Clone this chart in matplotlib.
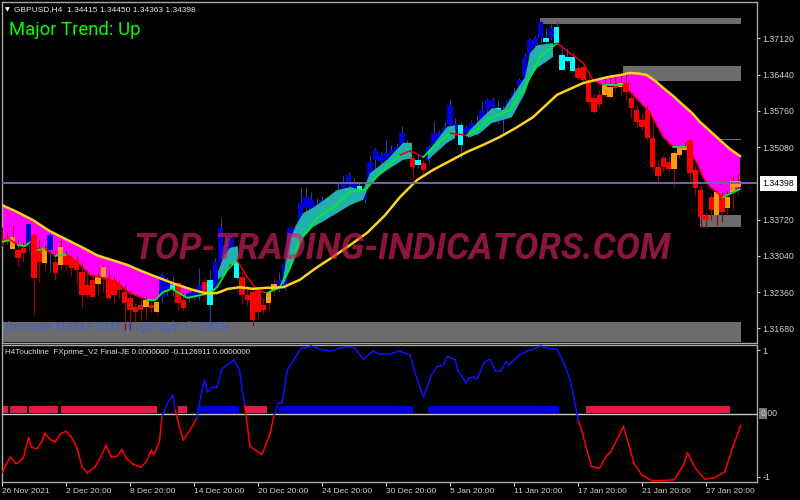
import numpy as np
import matplotlib
matplotlib.use("Agg")
import matplotlib.pyplot as plt
from matplotlib.patches import Rectangle

# candles, one every 2 bars: r/b = down/up, o/c = small orange/cyan ones
kinds = ("rrorrbrrob" "rorrrrrroo" "rrrrrrroro" "bbcrrbbbrc" "bbbbcrrrrr"
         "oobbbbbbbb" "bcbbbbbcbb" "bbbbbbcrcr" "bbbbbbcbbb" "bbbccbbbbb"
         "bbcbccccrr" "rrroororrr" "rrrrrrooor" "rrrrorooo")
body_top = [1.3335, 1.3337, 1.3339, 1.3315, 1.3319, 1.3363, 1.3343, 1.3319, 1.3319, 1.3343,
            1.3292, 1.3321, 1.3306, 1.3300, 1.3296, 1.3273, 1.3249, 1.3258, 1.3264, 1.3283,
            1.3262, 1.3258, 1.3249, 1.3236, 1.3225, 1.3208, 1.3212, 1.3221, 1.3212, 1.3217,
            1.3268, 1.3255, 1.3249, 1.3253, 1.3221, 1.3234, 1.3236, 1.3249, 1.3255, 1.3258,
            1.3292, 1.3356, 1.3325, 1.3337, 1.3292, 1.3264, 1.3231, 1.3236, 1.3240, 1.3212,
            1.3236, 1.3252, 1.3258, 1.3287, 1.3356, 1.3356, 1.3403, 1.3414, 1.3409, 1.3399,
            1.3409, 1.3399, 1.3414, 1.3427, 1.3440, 1.3455, 1.3442, 1.3435, 1.3422, 1.3480,
            1.3502, 1.3493, 1.3497, 1.3502, 1.3508, 1.3534, 1.3516, 1.3487, 1.3484, 1.3478,
            1.3508, 1.3534, 1.3534, 1.3546, 1.3587, 1.3551, 1.3549, 1.3544, 1.3553, 1.3549,
            1.3577, 1.3596, 1.3596, 1.3581, 1.3577, 1.3596, 1.3609, 1.3634, 1.3677, 1.3709,
            1.3713, 1.3743, 1.3713, 1.3731, 1.3733, 1.3681, 1.3677, 1.3677, 1.3656, 1.3658,
            1.3634, 1.3600, 1.3606, 1.3624, 1.3621, 1.3624, 1.3628, 1.3628, 1.3600, 1.3577,
            1.3559, 1.3577, 1.3525, 1.3470, 1.3487, 1.3480, 1.3497, 1.3506, 1.3510, 1.3521,
            1.3465, 1.3427, 1.3379, 1.3414, 1.3424, 1.3418, 1.3414, 1.3444, 1.3444]
body_bot = [1.3328, 1.3330, 1.3317, 1.3300, 1.3309, 1.3325, 1.3262, 1.3292, 1.3290, 1.3315,
            1.3271, 1.3287, 1.3287, 1.3281, 1.3277, 1.3231, 1.3231, 1.3227, 1.3252, 1.3264,
            1.3225, 1.3231, 1.3240, 1.3215, 1.3202, 1.3198, 1.3202, 1.3208, 1.3206, 1.3198,
            1.3227, 1.3240, 1.3240, 1.3215, 1.3206, 1.3225, 1.3225, 1.3231, 1.3231, 1.3212,
            1.3245, 1.3290, 1.3306, 1.3315, 1.3262, 1.3231, 1.3221, 1.3183, 1.3198, 1.3202,
            1.3215, 1.3240, 1.3243, 1.3245, 1.3292, 1.3343, 1.3362, 1.3394, 1.3390, 1.3386,
            1.3386, 1.3390, 1.3403, 1.3409, 1.3427, 1.3437, 1.3431, 1.3424, 1.3409, 1.3442,
            1.3484, 1.3480, 1.3484, 1.3493, 1.3499, 1.3502, 1.3499, 1.3470, 1.3474, 1.3465,
            1.3484, 1.3508, 1.3521, 1.3527, 1.3549, 1.3540, 1.3512, 1.3534, 1.3536, 1.3540,
            1.3555, 1.3577, 1.3583, 1.3568, 1.3562, 1.3574, 1.3587, 1.3606, 1.3639, 1.3677,
            1.3699, 1.3713, 1.3705, 1.3713, 1.3703, 1.3652, 1.3669, 1.3650, 1.3637, 1.3634,
            1.3592, 1.3574, 1.3589, 1.3606, 1.3602, 1.3619, 1.3621, 1.3611, 1.3581, 1.3555,
            1.3546, 1.3525, 1.3470, 1.3453, 1.3470, 1.3467, 1.3467, 1.3493, 1.3502, 1.3459,
            1.3431, 1.3377, 1.3371, 1.3390, 1.3380, 1.3386, 1.3394, 1.3424, 1.3433]
wick_hi = [1.3358, 1.3348, 1.3362, 1.3334, 1.3330, 1.3363, 1.3347, 1.3334, 1.3325, 1.3352,
           1.3315, 1.3334, 1.3315, 1.3308, 1.3304, 1.3292, 1.3277, 1.3271, 1.3273, 1.3287,
           1.3277, 1.3268, 1.3258, 1.3249, 1.3240, 1.3215, 1.3225, 1.3231, 1.3221, 1.3229,
           1.3273, 1.3264, 1.3266, 1.3255, 1.3236, 1.3240, 1.3243, 1.3281, 1.3262, 1.3277,
           1.3300, 1.3375, 1.3343, 1.3341, 1.3300, 1.3273, 1.3249, 1.3243, 1.3243, 1.3225,
           1.3243, 1.3262, 1.3273, 1.3300, 1.3360, 1.3362, 1.3433, 1.3433, 1.3424, 1.3412,
           1.3416, 1.3409, 1.3422, 1.3442, 1.3455, 1.3461, 1.3450, 1.3442, 1.3431, 1.3493,
           1.3506, 1.3499, 1.3521, 1.3512, 1.3516, 1.3547, 1.3521, 1.3493, 1.3493, 1.3484,
           1.3512, 1.3557, 1.3540, 1.3555, 1.3598, 1.3562, 1.3555, 1.3549, 1.3559, 1.3568,
           1.3594, 1.3600, 1.3602, 1.3596, 1.3585, 1.3600, 1.3619, 1.3637, 1.3684, 1.3713,
           1.3716, 1.3746, 1.3731, 1.3739, 1.3743, 1.3699, 1.3694, 1.3686, 1.3662, 1.3660,
           1.3643, 1.3608, 1.3615, 1.3637, 1.3641, 1.3641, 1.3645, 1.3645, 1.3606, 1.3587,
           1.3572, 1.3587, 1.3559, 1.3484, 1.3493, 1.3491, 1.3502, 1.3508, 1.3518, 1.3523,
           1.3474, 1.3437, 1.3386, 1.3422, 1.3427, 1.3424, 1.3427, 1.3455, 1.3459]
wick_lo = [1.3323, 1.3326, 1.3315, 1.3285, 1.3292, 1.3315, 1.3193, 1.3255, 1.3277, 1.3273,
           1.3258, 1.3277, 1.3277, 1.3266, 1.3249, 1.3206, 1.3225, 1.3227, 1.3231, 1.3236,
           1.3221, 1.3215, 1.3225, 1.3165, 1.3165, 1.3179, 1.3183, 1.3187, 1.3198, 1.3193,
           1.3215, 1.3231, 1.3231, 1.3202, 1.3202, 1.3217, 1.3221, 1.3221, 1.3221, 1.3179,
           1.3240, 1.3287, 1.3277, 1.3308, 1.3258, 1.3215, 1.3212, 1.3172, 1.3187, 1.3195,
           1.3202, 1.3229, 1.3236, 1.3240, 1.3287, 1.3337, 1.3352, 1.3386, 1.3382, 1.3378,
           1.3380, 1.3386, 1.3390, 1.3403, 1.3418, 1.3427, 1.3424, 1.3418, 1.3403, 1.3437,
           1.3455, 1.3465, 1.3474, 1.3484, 1.3487, 1.3493, 1.3497, 1.3446, 1.3468, 1.3457,
           1.3474, 1.3502, 1.3512, 1.3521, 1.3544, 1.3531, 1.3487, 1.3527, 1.3531, 1.3531,
           1.3551, 1.3568, 1.3577, 1.3551, 1.3534, 1.3568, 1.3581, 1.3596, 1.3634, 1.3671,
           1.3694, 1.3705, 1.3701, 1.3709, 1.3699, 1.3652, 1.3667, 1.3649, 1.3634, 1.3630,
           1.3587, 1.3572, 1.3581, 1.3602, 1.3600, 1.3611, 1.3606, 1.3596, 1.3562, 1.3544,
           1.3540, 1.3521, 1.3465, 1.3440, 1.3461, 1.3461, 1.3433, 1.3487, 1.3499, 1.3442,
           1.3418, 1.3356, 1.3356, 1.3371, 1.3362, 1.3367, 1.3380, 1.3390, 1.3418]

# slow average (yellow)
slow_bars = [0, 4.9, 11.6, 18, 24.4, 30, 35.6, 41.2, 46.9, 52.5, 58.1, 64.9, 71.6, 76.1, 80.6, 84.7, 89.2, 94.1, 99.4,
             105.4, 111.7, 117.7, 124.1, 130.5, 136.9, 143.6, 149.2, 155.6, 161.6, 168, 174.4, 180.4, 186.7, 192.7,
             199.1, 203.6, 208.1, 213, 217.9, 226.9, 231.7, 235.5, 238.5, 241.8, 244.9, 247.9, 251.6, 255.3, 258.7,
             261.7, 265.5, 269.2, 273, 276.7]
slow_ma = [1.3399, 1.3388, 1.3371, 1.3350, 1.3334, 1.3320, 1.3305, 1.3296, 1.3287, 1.3275, 1.3264, 1.3251, 1.3240,
           1.3234, 1.3234, 1.3242, 1.3245, 1.3242, 1.3244, 1.3245, 1.3259, 1.3281, 1.3302, 1.3324, 1.3347, 1.3380,
           1.3414, 1.3446, 1.3465, 1.3482, 1.3499, 1.3512, 1.3527, 1.3544, 1.3564, 1.3585, 1.3606, 1.3617, 1.3628,
           1.3639, 1.3643, 1.3647, 1.3646, 1.3643, 1.3632, 1.3619, 1.3604, 1.3587, 1.3572, 1.3555, 1.3538, 1.3521,
           1.3504, 1.3491]

# fast average (green / red)
fast_bars = [0, 3, 6, 8.6, 10.5, 13.5, 16.1, 19.9, 24.4, 29.2, 33, 36.7, 43.1, 48, 54.4, 57.4, 60.4, 63.7, 69.4, 74.2,
             78, 80.6, 84.4, 88.1, 91.9, 95.6, 99.4, 104.2, 108, 111.7, 118.1, 124.1, 130.5, 135, 136.9, 141.7, 149.2,
             153, 157.9, 161.6, 168, 174.4, 179.2, 183, 190.5, 196.9, 201.7, 208.1, 213, 217.9, 221.6, 225.3, 232.8,
             236.6, 243, 247.9, 251.6, 256.8, 260.6, 262.9, 265.5, 270.3, 276.7]
fast_ma = [1.3330, 1.3334, 1.3324, 1.3322, 1.3330, 1.3315, 1.3317, 1.3304, 1.3306, 1.3287, 1.3268, 1.3264, 1.3253,
           1.3234, 1.3221, 1.3221, 1.3236, 1.3242, 1.3225, 1.3230, 1.3234, 1.3245, 1.3277, 1.3296, 1.3264, 1.3240,
           1.3234, 1.3245, 1.3283, 1.3334, 1.3375, 1.3394, 1.3424, 1.3427, 1.3431, 1.3459, 1.3493, 1.3501, 1.3489,
           1.3508, 1.3534, 1.3530, 1.3544, 1.3562, 1.3577, 1.3628, 1.3677, 1.3703, 1.3684, 1.3666, 1.3634, 1.3624,
           1.3624, 1.3606, 1.3572, 1.3527, 1.3508, 1.3508, 1.3478, 1.3451, 1.3433, 1.3414, 1.3429]
fast_green_spans = [(0, 3), (6, 10.5), (13.5, 16.1), (19.9, 24.4), (54.4, 88.1), (99.4, 149.2), (157.9, 168),
                    (174.4, 208.1), (225.3, 232.8), (251.6, 256.8), (270.3, 276.7)]

# teal band, nan splits it into pieces
teal_bars = [81, 83.3, 85.5, 88.5, 89,
             105.4, 108, 110.3, 112.9, 116.6, 119.2, 125.6, 130.5, 135.4, 138, 144.4, 150.4, 153.7, 154,
             159.7, 166.9, 169.9, 170,
             174.7, 179.2, 183.7, 187.9, 191.2, 196.1, 198, 200.6, 206.6]
teal_top = [1.3274, 1.3305, 1.3319, 1.3322, np.nan,
            1.3262, 1.3334, 1.3362, 1.3384, 1.3394, 1.3403, 1.3427, 1.3433, 1.3427, 1.3459, 1.3484, 1.3516, 1.3516, np.nan,
            1.3499, 1.3546, 1.3549, np.nan,
            1.3536, 1.3559, 1.3581, 1.3577, 1.3602, 1.3639, 1.3684, 1.3699, 1.3703]
teal_bot = [1.3259, 1.3268, 1.3287, 1.3292, np.nan,
            1.3249, 1.3277, 1.3305, 1.3337, 1.3358, 1.3365, 1.3384, 1.3399, 1.3409, 1.3441, 1.3465, 1.3484, 1.3487, np.nan,
            1.3484, 1.3516, 1.3525, np.nan,
            1.3525, 1.3534, 1.3553, 1.3559, 1.3564, 1.3609, 1.3637, 1.3656, 1.3677]

# grey supply / demand zones
zone_start = [201.8, 232.9, 261.8, 261.8, 0]
zone_end = [277, 277, 277, 277, 277]
zone_hi = [1.37500, 1.36609, 1.35240, 1.33805, 1.31798]
zone_lo = [1.37388, 1.36328, 1.35221, 1.33580, 1.31423]

last_price = 1.34398
price_ticks = [1.37120, 1.36440, 1.35760, 1.35080, 1.33720, 1.33040, 1.32360, 1.31680]

# oscillator in the lower pane
osc_bars = [0, 3, 5, 6, 8, 10, 11, 13, 15, 16, 18, 20, 22, 24, 26, 28, 30, 32, 35, 37, 39, 41, 43, 45, 46.5, 49, 52, 54,
            56, 57, 59, 60, 62, 64, 65, 66.5, 68, 70.5, 73, 75, 76, 77, 79, 80.5, 82.5, 87, 89, 91, 93, 97.5, 100.5,
            102, 103.5, 105, 107, 112, 116, 119, 123, 128, 132, 135.5, 139, 141.5, 145, 149, 153, 155, 158, 161, 163,
            165.5, 167, 170, 171, 174, 175, 177, 178, 181, 183, 185, 187, 189, 190, 194, 197, 202, 205, 208, 210.5,
            213, 215, 216, 217, 221, 224, 227, 228, 230.5, 233, 237, 240, 244, 252, 255.5, 257, 260, 263.5, 267, 271,
            274, 277]
osc_vals = [-.94, -.69, -.78, -.78, -.70, -.38, -.53, -.56, -.45, -.31, -.41, -.45, -.32, -.28, -.37, -.53, -.84, -.94,
            -.84, -.69, -.50, -.69, -.68, -.57, -.70, -.80, -.85, -.77, -.58, -.65, -.45, -.05, .16, .29, .05, -.21,
            -.42, -.26, -.08, .37, .53, .34, .42, .41, .71, .85, .69, .13, -.52, -.65, -.32, -.03, .16, .17, .69, 1.03,
            1.07, 1.02, .99, 1.05, 1.05, .86, .99, .94, .94, .99, .93, .63, .26, .61, .74, .77, .91, .85, .68, .49,
            .56, .58, .54, .82, .86, .68, .68, .82, .77, .93, .99, 1.07, 1.03, 1.02, .82, .54, .13, -.11, -.21, -.84,
            -.87, -.65, -.63, -.42, -.20, -.79, -.98, -1.07, -1.05, -.82, -.62, -.87, -1.04, -1.02, -.93, -.53, -.19]

# trend blocks just above zero
sell_blocks = [(0, 2.25), (3, 6.25), (10, 11), (22, 36.25), (66, 3.25), (91, 8.25), (218.8, 54.2)]
buy_blocks = [(73, 16), (104, 50), (159.7, 49.3)]

tick_bars = list(range(0, 288, 24))
tick_names = ["26 Nov 2021", "2 Dec 20:00", "8 Dec 20:00", "14 Dec 20:00", "20 Dec 20:00", "24 Dec 20:00",
              "30 Dec 20:00", "5 Jan 20:00", "11 Jan 20:00", "17 Jan 20:00", "21 Jan 20:00", "27 Jan 20:00"]

body_colors = {"r": "#ff0000", "b": "#0000d8", "o": "#ff9a10", "c": "#00ffff"}
wick_colors = {"r": "#a00000", "b": "#2a3fa8", "o": "#a00000", "c": "#2a3fa8"}
edge = "#a8a8a8"
tick_col = "#d0d0d0"

plt.rcParams["font.family"] = ["Liberation Sans", "DejaVu Sans"]

W, H = 800, 500
fig = plt.figure(figsize=(8, 5), dpi=100, facecolor="black")
ax = fig.add_axes([2 / W, 1 - 343 / H, 755.5 / W, 341 / H], facecolor="black")
ax2 = fig.add_axes([2 / W, 1 - 482 / H, 755.5 / W, 137 / H], facecolor="black")

xlim = (0, 755.5 / 2.667)
ax.set_xlim(xlim)
ax.set_ylim(1.31404, 1.37801)
ax2.set_xlim(xlim)
ax2.set_ylim(-1.085, 1.087)

for a in (ax, ax2):
    for s in a.spines.values():
        s.set_color(edge)
        s.set_linewidth(1)
    a.yaxis.tick_right()

# zones first, everything else sits on them
for start, end, hi, lo in zip(zone_start, zone_end, zone_hi, zone_lo):
    ax.add_patch(Rectangle((start, lo), end - start, hi - lo, color="#6c6c6c", lw=0, zorder=1))

# magenta cloud: slow line on top, fast line below
slow_x, slow_y = np.array(slow_bars), np.array(slow_ma)
fast_x, fast_y = np.array(fast_bars), np.array(fast_ma)
for left, right in [(0, 72), (221, 277)]:
    m1 = (slow_x >= left) & (slow_x <= right)
    m2 = (fast_x >= left) & (fast_x <= right)
    ax.fill(np.r_[slow_x[m1], fast_x[m2][::-1]], np.r_[slow_y[m1], fast_y[m2][::-1]],
            color="#ff00ff", lw=0, zorder=2)

# candles
bars = np.arange(len(kinds)) * 2
for kind in "rboc":
    idx = [i for i, k in enumerate(kinds) if k == kind]
    tops = np.array(body_top)[idx]
    bots = np.array(body_bot)[idx]
    ax.vlines(bars[idx], np.array(wick_lo)[idx], np.array(wick_hi)[idx], color=wick_colors[kind], lw=0.8, zorder=3)
    ax.bar(bars[idx], tops - bots, bottom=bots, width=2.0, color=body_colors[kind], lw=0, zorder=4)

# teal goes over the blue bodies, they only show above it
ax.fill_between(teal_bars, teal_bot, teal_top, color="#20b2aa", lw=0, zorder=5)

# fast line, coloured per segment
for i in range(len(fast_bars) - 1):
    mid = (fast_bars[i] + fast_bars[i + 1]) / 2
    green = any(a <= mid <= b for a, b in fast_green_spans)
    ax.plot(fast_bars[i:i + 2], fast_ma[i:i + 2], color="#00f020" if green else "#e80000",
            lw=1.3 if green else 1.1, solid_capstyle="round", zorder=6)

ax.plot(slow_bars, slow_ma, color="#ffd21a", lw=1.8, solid_joinstyle="round", zorder=7)
ax.axhline(last_price, color="#6f68a8", lw=1.4, zorder=8)

ax.set_xticks([])
ax.set_yticks(price_ticks)
ax.set_yticklabels([f"{v:.5f}" for v in price_ticks])
ax.tick_params(axis="y", colors=tick_col, labelsize=6.3, length=2, width=0.8, pad=1.5)

ax.annotate(f"{last_price:.5f}", xy=(1, last_price), xycoords=ax.get_yaxis_transform(), xytext=(3.5, 0),
            textcoords="offset points", va="center", ha="left", color="black", fontsize=6.3, annotation_clip=False,
            bbox=dict(boxstyle="square,pad=0.3", fc="white", ec="none"))

# lower pane
ax2.broken_barh(sell_blocks, (0.016, 0.10), color="#dc1c44", lw=0, zorder=2)
ax2.broken_barh(buy_blocks, (0.016, 0.10), color="#0000d8", lw=0, zorder=2)
ax2.axhline(0, color="#c8c8c8", lw=1, zorder=3)
for i in range(len(osc_bars) - 1):
    up = osc_vals[i] + osc_vals[i + 1] > 0
    ax2.plot(osc_bars[i:i + 2], osc_vals[i:i + 2], color="#1010ff" if up else "#ff0000", lw=1.1,
             solid_capstyle="round", zorder=4)
ax2.set_yticks([1, -1])
ax2.set_yticklabels(["1", "-1"])
ax2.tick_params(axis="y", colors=tick_col, labelsize=6.3, length=2, width=0.8, pad=1.5)
fig.add_artist(Rectangle((759 / W, 1 - 419 / H), 8 / W, 11 / H, transform=fig.transFigure, color="#777777", lw=0,
                         zorder=-1))
ax2.annotate("0.00", xy=(1, 0), xycoords=ax2.get_yaxis_transform(), xytext=(2, 0), textcoords="offset points",
             va="center", ha="left", color=tick_col, fontsize=6.3, annotation_clip=False, zorder=10)
ax2.set_xticks(tick_bars)
ax2.set_xticklabels(tick_names, ha="left")
ax2.tick_params(axis="x", colors=tick_col, labelsize=6, length=3, width=0.8, pad=1)

# header texts
fig.text(14 / W, 1 - 10 / H, "GBPUSD,H4  1.34415 1.34450 1.34363 1.34398", color="#e8e8e8", fontsize=6, va="center")
fig.text(7 / W, 1 - 10 / H, "▼", color="white", fontsize=4.5, va="center", ha="center", family="DejaVu Sans")
fig.text(9 / W, 1 - 30 / H, "Major Trend: Up", color="#00ff00", fontsize=13.3, va="center", family="Roboto")
fig.text(5 / W, 1 - 327 / H, "fxcruiser HAMA PAD (Copyright © 2009)", color="#3a5fe0", fontsize=9.5, va="center",
         family="Liberation Serif", style="italic")
fig.text(5 / W, 1 - 353 / H, "H4Touchline  FXprime_V2 Final-JE 0.0000000 -0.1126911 0.0000000",
         color="#e0e0e0", fontsize=5.8, va="center")

fig.text(402 / W, 1 - 249 / H, "TOP-TRADING-INDICATORS.COM", color="#d0205c", alpha=0.68, fontsize=26,
         fontweight="bold", style="italic", family="Roboto", ha="center", va="center", zorder=20)

fig.savefig("out.png", dpi=100, facecolor="black")
